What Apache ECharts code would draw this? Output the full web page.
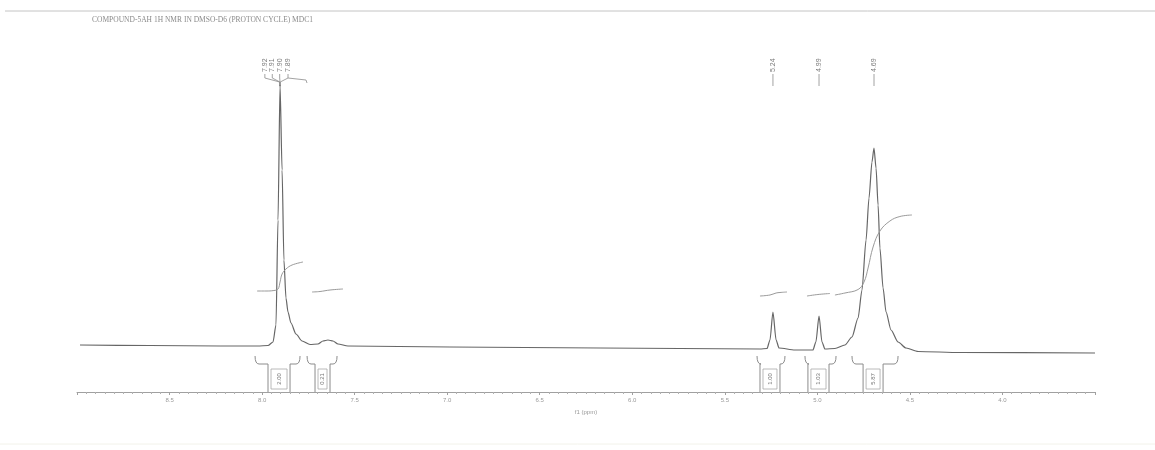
<!DOCTYPE html>
<html>
<head>
<meta charset="utf-8">
<script src="https://cdn.jsdelivr.net/npm/echarts@6/dist/echarts.min.js"></script>
<style>
  html, body { margin: 0; padding: 0; background: #fff; }
  #cn { width: 1155px; height: 450px; }
</style>
</head>
<body>
<div id="cn"></div>
<script>
'use strict';

// spectrum trace (ppm / intensity)
const specPpm = [8.984, 8.606, 8.227, 8.022, 7.968, 7.941, 7.925, 7.914, 7.903, 7.892, 7.882, 7.871, 7.860, 7.844, 7.817, 7.784, 7.741,
    7.698, 7.671, 7.644, 7.617, 7.590, 7.536, 6.985, 6.174, 5.310, 5.272, 5.256, 5.240, 5.223, 5.207, 5.121, 5.024, 5.008, 4.991,
    4.975, 4.959, 4.905, 4.851, 4.813, 4.780, 4.759, 4.737, 4.721, 4.705, 4.694, 4.683, 4.672, 4.662, 4.645, 4.629, 4.602, 4.564,
    4.521, 4.456, 4.229, 3.500];
const specInt = [47, 46.5, 46, 46, 46.5, 50, 67, 172, 307, 222, 132, 94, 80, 69, 58, 51, 47.5,
    48, 51, 52, 51, 48, 46, 45, 44, 43, 43.5, 52, 80, 52, 44, 42, 42, 50, 76,
    50, 43, 43.5, 47, 55, 74, 102, 152, 194, 230, 244, 224, 187, 144, 104, 80, 62, 50,
    44, 40.5, 39.5, 39];

// integral curves
const int1Ppm = [8.027, 7.979, 7.936, 7.914, 7.903, 7.892, 7.871, 7.838, 7.779];
const int1Val = [101, 101, 101.5, 103, 110, 118, 123, 127, 130];
const int2Ppm = [7.730, 7.687, 7.633, 7.563];
const int2Val = [100, 100.5, 102, 103];
const int3Ppm = [5.310, 5.256, 5.223, 5.202, 5.164];
const int3Val = [96, 97, 99, 99.5, 100];
const int4Ppm = [5.056, 4.997, 4.932];
const int4Val = [96, 97.5, 98.5];
const int5Ppm = [4.905, 4.851, 4.780, 4.748, 4.726, 4.699, 4.662, 4.608, 4.554, 4.489];
const int5Val = [97, 99, 102.5, 110, 124, 145, 161, 171, 175.5, 177];

// integration brackets under the trace
const brOuterL = [8.038, 7.757, 5.326, 5.067, 4.813];
const brInnerL = [7.968, 7.714, 5.310, 5.051, 4.753];
const brInnerR = [7.849, 7.633, 5.202, 4.937, 4.645];
const brOuterR = [7.795, 7.595, 5.175, 4.899, 4.564];
const brText = ['2.00', '0.21', '1.00', '1.03', '5.87'];

// peak picking labels
const pkTextPpm = [7.985, 7.945, 7.905, 7.860, 5.240, 4.991, 4.694];
const pkPpm = [7.905, 7.904, 7.903, 7.902, 5.240, 4.991, 4.694];
const pkText = ['7.92', '7.91', '7.90', '7.89', '5.24', '4.99', '4.69'];

const chart = echarts.init(document.getElementById('cn'));

const lineOf = (xs, ys) => xs.map((x, i) => [x, ys[i]]);

const integralSeries = [[int1Ppm, int1Val], [int2Ppm, int2Val], [int3Ppm, int3Val], [int4Ppm, int4Val], [int5Ppm, int5Val]]
    .map(pair => ({
        type: 'line',
        data: lineOf(pair[0], pair[1]),
        smooth: 0.4,
        showSymbol: false,
        silent: true,
        lineStyle: { color: '#9a9a9a', width: 1 }
    }));

const option = {
    animation: false,
    backgroundColor: '#fff',
    grid: { left: 77, right: 60, top: 40, bottom: 58 },
    graphic: [{
            type: 'line',
            shape: { x1: 5, y1: 11, x2: 1155, y2: 11 },
            style: { stroke: '#c4c4c4', lineWidth: 1 }
        },
        {
            type: 'text',
            x: 92,
            y: 20,
            style: {
                text: 'COMPOUND-5AH 1H NMR IN DMSO-D6 (PROTON CYCLE) MDC1',
                font: '7.5px "Liberation Serif"',
                fill: '#8a8a8a',
                verticalAlign: 'middle'
            }
        },
        {
            type: 'line',
            shape: { x1: 0, y1: 444, x2: 1155, y2: 444 },
            style: { stroke: '#f2f2ea', lineWidth: 1 }
        }
    ],
    xAxis: {
        type: 'value',
        min: 3.5,
        max: 9.0,
        interval: 0.5,
        inverse: true,
        name: 'f1 (ppm)',
        nameLocation: 'middle',
        nameGap: 17,
        nameTextStyle: { fontSize: 6, color: '#999' },
        axisLine: { lineStyle: { color: '#a0a0a0', width: 1 } },
        axisTick: { length: 3, lineStyle: { color: '#a0a0a0' } },
        minorTick: { show: true, splitNumber: 10, length: 2, lineStyle: { color: '#b0b0b0' } },
        splitLine: { show: false },
        axisLabel: {
            fontSize: 6,
            color: '#999',
            margin: 5,
            showMinLabel: false,
            showMaxLabel: false,
            formatter: v => v.toFixed(1)
        }
    },
    yAxis: { type: 'value', min: 0, max: 352, show: false },
    series: [{
            type: 'line',
            data: lineOf(specPpm, specInt),
            smooth: 0.25,
            smoothMonotone: 'x',
            showSymbol: false,
            silent: true,
            lineStyle: { color: '#666', width: 1.2 }
        },
        ...integralSeries,
        {
            type: 'custom',
            silent: true,
            clip: false,
            data: brOuterL.map(v => [v, 0]),
            renderItem: (params, api) => {
                const i = params.dataIndex;
                const yTop = api.coord([0, 36])[1];
                const yMid = api.coord([0, 28])[1];
                const yAx = api.coord([0, 0])[1];
                const xOL = api.coord([brOuterL[i], 0])[0];
                const xIL = api.coord([brInnerL[i], 0])[0];
                const xIR = api.coord([brInnerR[i], 0])[0];
                const xOR = api.coord([brOuterR[i], 0])[0];
                const st = { stroke: '#8c8c8c', lineWidth: 1, fill: null };
                return {
                    type: 'group',
                    children: [{
                            type: 'path',
                            shape: { pathData: `M${xOL} ${yTop} Q${xOL} ${yMid} ${xOL + 4} ${yMid} L${xIL} ${yMid} L${xIL} ${yAx}` },
                            style: st
                        },
                        {
                            type: 'path',
                            shape: { pathData: `M${xOR} ${yTop} Q${xOR} ${yMid} ${xOR - 4} ${yMid} L${xIR} ${yMid} L${xIR} ${yAx}` },
                            style: st
                        },
                        {
                            type: 'rect',
                            shape: { x: xIL + 3, y: yMid + 5, width: xIR - xIL - 6, height: yAx - yMid - 8 },
                            style: { stroke: '#a8a8a8', lineWidth: 0.8, fill: null }
                        },
                        {
                            type: 'text',
                            x: (xIL + xIR) / 2,
                            y: (yMid + 5 + yAx - 3) / 2,
                            rotation: Math.PI / 2,
                            style: {
                                text: brText[i],
                                fontSize: 6,
                                fill: '#777',
                                align: 'center',
                                verticalAlign: 'middle'
                            }
                        }
                    ]
                };
            }
        },
        {
            type: 'custom',
            silent: true,
            clip: false,
            data: pkTextPpm.map(v => [v, 320]),
            renderItem: (params, api) => {
                const i = params.dataIndex;
                const pTxt = api.coord([pkTextPpm[i], 320]);
                const pPk = api.coord([pkPpm[i], 306]);
                const yBend = api.coord([0, 314])[1];
                const children = [{
                        type: 'text',
                        x: pTxt[0],
                        y: pTxt[1],
                        rotation: Math.PI / 2,
                        style: {
                            text: pkText[i],
                            fontSize: 7,
                            fill: '#7a7a7a',
                            align: 'left',
                            verticalAlign: 'middle'
                        }
                    },
                    {
                        type: 'polyline',
                        shape: { points: [[pTxt[0], pTxt[1] + 2], [pTxt[0], yBend], [pPk[0], yBend + 4], [pPk[0], pPk[1]]] },
                        style: { stroke: '#8c8c8c', lineWidth: 0.8, fill: null }
                    }
                ];
                if (i === 3) {
                    // tail of the label group
                    children.push({
                        type: 'polyline',
                        shape: { points: [[pTxt[0], yBend], [pTxt[0] + 18, yBend + 2], [pTxt[0] + 19, yBend + 5]] },
                        style: { stroke: '#8c8c8c', lineWidth: 0.8, fill: null }
                    });
                }
                return { type: 'group', children: children };
            }
        }
    ]
};

chart.setOption(option);
</script>
</body>
</html>
